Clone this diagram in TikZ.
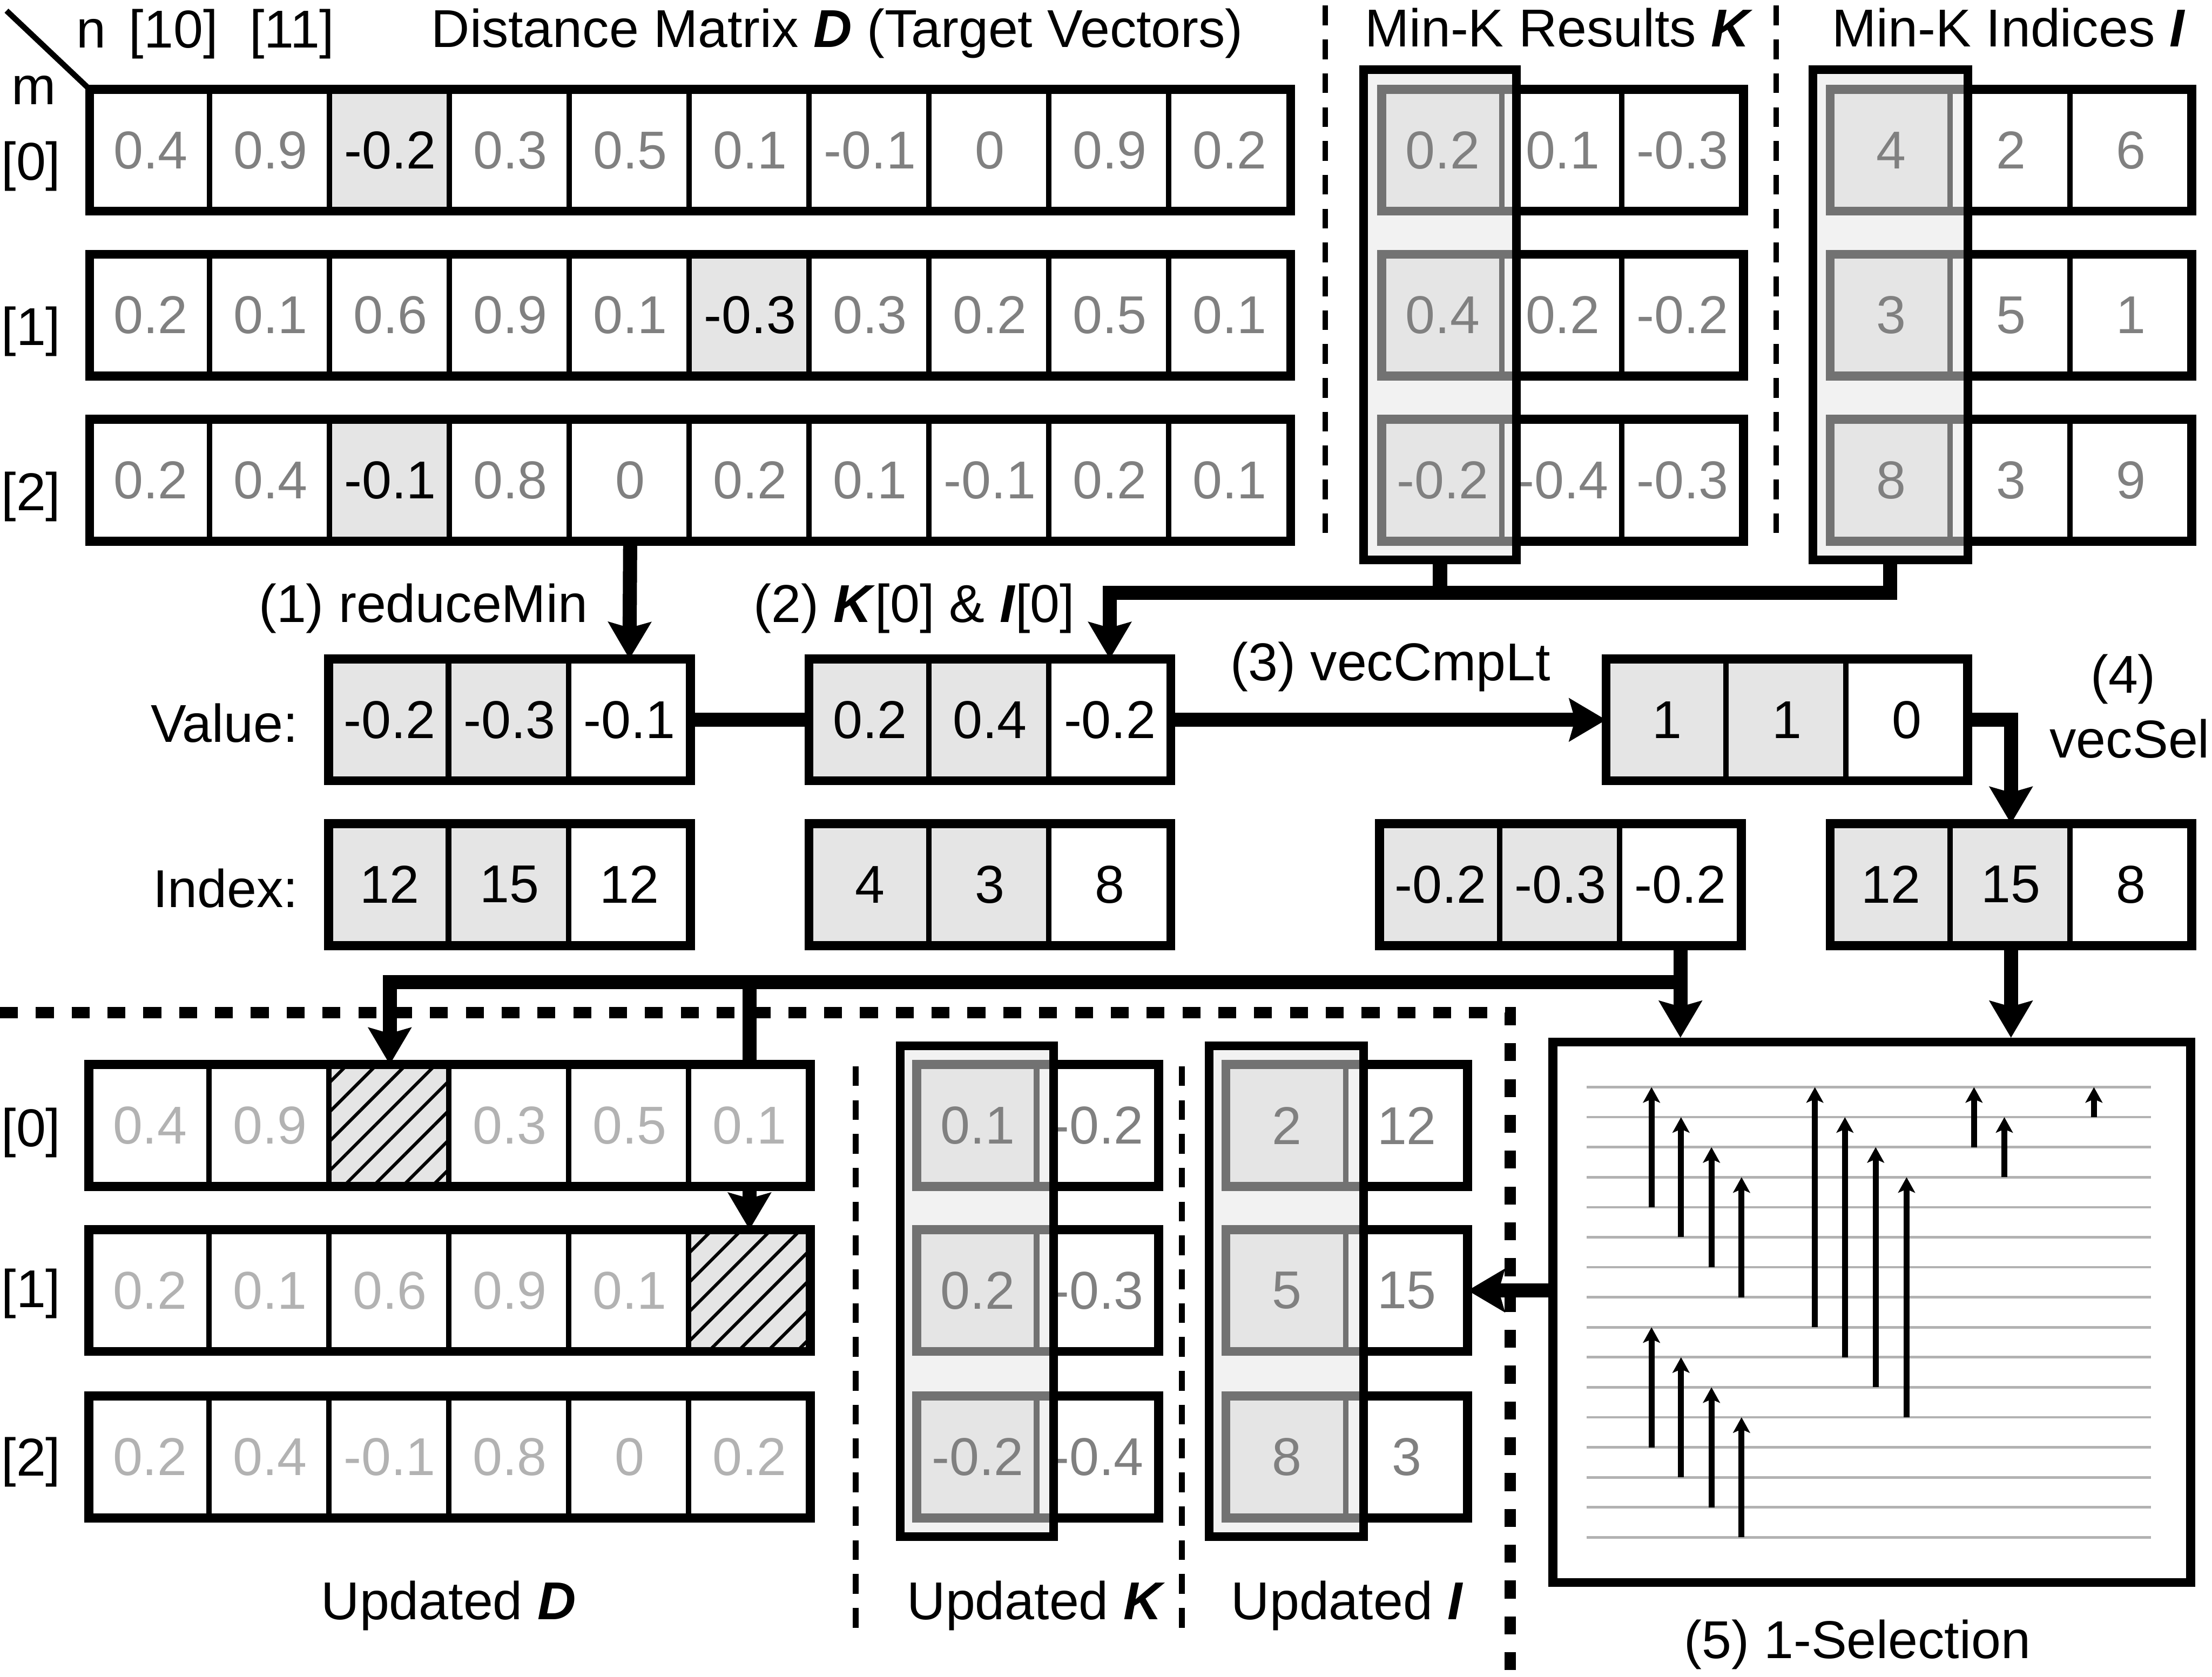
\documentclass[tikz,border=0pt]{standalone}
\usepackage{fontspec}
\setmainfont{Liberation Sans}
\usepackage{tikz}
\usetikzlibrary{arrows.meta, patterns.meta}

\newcommand{\cellrow}[5]{%
  \foreach \v/\s [count=\i] in {#5} {
    \node[cell, \s] (#1-\i) at ({#2+(\i-0.5)*85}, #3) {\v};
  }
  \foreach \i in {2,...,#4} {
    \draw[cellsep] (#1-\i.north west) -- (#1-\i.south west);
  }
  \draw[rowframe] (#1-1.north west) rectangle (#1-#4.south east);
}

\begin{document}
\begin{tikzpicture}[x=0.1mm, y=-0.1mm, font=\fontsize{10.75}{13}\selectfont]
    \tikzstyle{cell} = [rectangle, minimum width=8.5mm, minimum height=8.5mm, inner sep=0pt]
    \tikzstyle{dv} = [text=gray]
    \tikzstyle{dh} = [fill=black!10, text=black]
    \tikzstyle{uv} = [text=black!30]
    \tikzstyle{hatch} = [fill=black!10, postaction={pattern={Lines[angle=45, distance=4.2pt, line width=0.65pt]}}]
    \tikzstyle{kv} = [text=gray]
    \tikzstyle{kh} = [fill=black!10]
    \tikzstyle{bv} = [text=black]
    \tikzstyle{bh} = [fill=black!10, text=black]
    \tikzstyle{cellsep} = [line width=0.4mm]
    \tikzstyle{rowframe} = [line width=0.64mm]
    \tikzstyle{colsel} = [rectangle, draw, line width=0.6mm, fill=black!10, fill opacity=0.5, inner sep=0pt]
    \tikzstyle{lbl} = [inner sep=0pt, anchor=base]
    \tikzstyle{conn} = [line width=1mm]
    \tikzstyle{arr} = [-{Stealth[length=2.6mm, width=3mm, inset=0.4mm]}]
    \tikzstyle{netarr} = [line width=0.43mm, -{Stealth[length=1.1mm, width=1.2mm, inset=0.25mm]}]
    \tikzstyle{gridln} = [line width=0.18mm, black!30]
    \tikzstyle{thindash} = [line width=0.4mm, dash pattern=on 1.4mm off 1mm]
    \tikzstyle{thickdash} = [line width=0.83mm, dash pattern=on 1.27mm off 1.27mm]

    \useasboundingbox (0,0) rectangle (1568,1189);

    \draw[thindash] (939.5,4) -- (939.5,383);
    \draw[thindash] (1259,4) -- (1259,383);
    \draw[thindash] (606.6,756) -- (606.6,1155);
    \draw[thindash] (837.8,756) -- (837.8,1155);
    \draw[thickdash] (0,718) -- (1070.5,718) -- (1070.5,1189);

    \node[lbl] (nlab) at (64.5,34) {n};
    \node[lbl] (n10) at (123,34) {[10]};
    \node[lbl] (n11) at (207,34) {[11]};
    \node[lbl] (mlab) at (24,74) {m};
    \node[lbl] (dtitle) at (593.5,33.5) {Distance Matrix \textbf{\textit{D}} (Target Vectors)};
    \node[lbl] (ktitle) at (1105,33.2) {Min-K Results \textbf{\textit{K}}};
    \node[lbl] (ititle) at (1424,33.2) {Min-K Indices \textbf{\textit{I}}};

    \node (r0) at (22,118) {[0]};
    \node (r1) at (22,235) {[1]};
    \node (r2) at (22,352) {[2]};
    \cellrow{d0}{64.2}{106.5}{10}{0.4/dv, 0.9/dv, -0.2/dh, 0.3/dv, 0.5/dv, 0.1/dv, -0.1/dv, 0/dv, 0.9/dv, 0.2/dv}
    \cellrow{d1}{64.2}{223.5}{10}{0.2/dv, 0.1/dv, 0.6/dv, 0.9/dv, 0.1/dv, -0.3/dh, 0.3/dv, 0.2/dv, 0.5/dv, 0.1/dv}
    \cellrow{d2}{64.2}{340.5}{10}{0.2/dv, 0.4/dv, -0.1/dh, 0.8/dv, 0/dv, 0.2/dv, 0.1/dv, -0.1/dv, 0.2/dv, 0.1/dv}
    \coordinate (corner) at (4.6,7.6);
    \draw[line width=0.4mm] (corner) -- (d0-1.north west);

    \cellrow{k0}{980.2}{106.5}{3}{{}/kh, 0.1/kv, -0.3/kv}
    \cellrow{k1}{980.2}{223.5}{3}{{}/kh, 0.2/kv, -0.2/kv}
    \cellrow{k2}{980.2}{340.5}{3}{{}/kh, -0.4/kv, -0.3/kv}
    \node[colsel, minimum width=10.85mm, minimum height=34.75mm] (kcol) at (1020.75,223.25) {};
    \node[kv] (k0t) at (k0-1) {0.2};
    \node[kv] (k1t) at (k1-1) {0.4};
    \node[kv] (k2t) at (k2-1) {-0.2};

    \cellrow{i0}{1298}{106.5}{3}{{}/kh, 2/kv, 6/kv}
    \cellrow{i1}{1298}{223.5}{3}{{}/kh, 5/kv, 1/kv}
    \cellrow{i2}{1298}{340.5}{3}{{}/kh, 3/kv, 9/kv}
    \node[colsel, minimum width=11mm, minimum height=34.75mm] (icol) at (1340,223.25) {};
    \node[kv] (i0t) at (i0-1) {4};
    \node[kv] (i1t) at (i1-1) {3};
    \node[kv] (i2t) at (i2-1) {8};

    \node[lbl] (step1) at (300,441.3) {(1) reduceMin};
    \node[lbl] (step2) at (648,441.3) {(2) \textbf{\textit{K}}[0] \& \textbf{\textit{I}}[0]};
    \node[lbl] (step3) at (985.7,482.4) {(3) vecCmpLt};
    \node[lbl] (step4a) at (1505,491.3) {(4)};
    \node[lbl] (step4b) at (1509.7,537.3) {vecSel};
    \node[lbl, anchor=base east] (vallab) at (212,526.3) {Value:};
    \node[lbl, anchor=base east] (idxlab) at (212,643.4) {Index:};

    \cellrow{v1}{233.7}{510.4}{3}{-0.2/bh, -0.3/bh, -0.1/bv}
    \cellrow{v2}{574.2}{510.4}{3}{0.2/bh, 0.4/bh, -0.2/bv}
    \cellrow{x1}{233.7}{627.2}{3}{12/bh, 15/bh, 12/bv}
    \cellrow{x2}{574.2}{627.2}{3}{4/bh, 3/bh, 8/bv}
    \cellrow{cmp}{1139.2}{510.4}{3}{1/bh, 1/bh, 0/bv}
    \cellrow{newv}{978.7}{627.2}{3}{-0.2/bh, -0.3/bh, -0.2/bv}
    \cellrow{newi}{1298}{627.2}{3}{12/bh, 15/bh, 8/bv}

    \node[draw, line width=0.62mm, minimum width=45.21mm, minimum height=38.3mm, inner sep=0pt] (sel) at (1326.85,930.4) {};
    \foreach \k in {0,...,15}
        \draw[gridln] (1124.8,{770.8+21.28*\k}) -- (1524.8,{770.8+21.28*\k});
    \foreach \x/\a/\b in {1170.7/4/0, 1191.6/5/1, 1213.2/6/2, 1234.5/7/3,
                          1170.7/12/8, 1191.6/13/9, 1213.2/14/10, 1234.5/15/11,
                          1286.5/8/0, 1307.8/9/1, 1329.6/10/2, 1351.5/11/3,
                          1399.3/2/0, 1420.8/3/1, 1484.3/1/0}
        \draw[netarr] (\x,{770.8+21.28*\a}) -- (\x,{770.8+21.28*\b});
    \node[lbl] (step5) at (1316.6,1175.8) {(5) 1-Selection};

    \node (u0) at (22,803) {[0]};
    \node (u1) at (22,917.4) {[1]};
    \node (u2) at (22,1036.7) {[2]};
    \cellrow{ud0}{63.8}{798}{6}{0.4/uv, 0.9/uv, {}/hatch, 0.3/uv, 0.5/uv, 0.1/uv}
    \cellrow{ud1}{63.8}{915}{6}{0.2/uv, 0.1/uv, 0.6/uv, 0.9/uv, 0.1/uv, {}/hatch}
    \cellrow{ud2}{63.8}{1033}{6}{0.2/uv, 0.4/uv, -0.1/uv, 0.8/uv, 0/uv, 0.2/uv}
    \node[lbl] (udlab) at (318,1148.3) {Updated \textbf{\textit{D}}};

    \cellrow{uk0}{650.5}{798}{2}{{}/kh, -0.2/kv}
    \cellrow{uk1}{650.5}{915}{2}{{}/kh, -0.3/kv}
    \cellrow{uk2}{650.5}{1033}{2}{{}/kh, -0.4/kv}
    \node[colsel, minimum width=10.87mm, minimum height=34.8mm] (ukcol) at (692.55,915.5) {};
    \node[kv] (uk0t) at (uk0-1) {0.1};
    \node[kv] (uk1t) at (uk1-1) {0.2};
    \node[kv] (uk2t) at (uk2-1) {-0.2};
    \node[lbl] (uklab) at (734.5,1148.2) {Updated \textbf{\textit{K}}};

    \cellrow{ui0}{869.7}{798}{2}{{}/kh, 12/kv}
    \cellrow{ui1}{869.7}{915}{2}{{}/kh, 15/kv}
    \cellrow{ui2}{869.7}{1033}{2}{{}/kh, 3/kv}
    \node[colsel, minimum width=10.96mm, minimum height=34.8mm] (uicol) at (911.8,915.5) {};
    \node[kv] (ui0t) at (ui0-1) {2};
    \node[kv] (ui1t) at (ui1-1) {5};
    \node[kv] (ui2t) at (ui2-1) {8};
    \node[lbl] (uilab) at (955,1148.2) {Updated \textbf{\textit{I}}};

    \draw[conn, arr] (d2-5.south) -- (v1-3.north);
    \draw[conn] (v1-3.east) -- (v2-1.west);
    \draw[conn, arr] (v2-3.east) -- (cmp-1.west);
    \coordinate (kibus) at (0,420.5);
    \draw[conn] (kcol.south) -- (kcol.south |- kibus);
    \draw[conn, arr] (icol.south) |- (kibus -| v2-3) -- (v2-3.north);
    \draw[conn, arr] (cmp-3.east) -| (newi-2.north);
    \draw[conn, arr] (newv-3.south) -- (newv-3 |- sel.north);
    \draw[conn, arr] (newi-2.south) -- (newi-2 |- sel.north);
    \coordinate (dbus) at (0,696.5);
    \draw[conn, arr] (newv-3 |- dbus) -| (ud0-3.north);
    \draw[conn] (ud0-6.north |- dbus) -- (ud0-6.north);
    \draw[conn, arr] (ud0-6.south) -- (ud1-6.north);
    \draw[conn, arr] (sel.west |- ui1-2) -- (ui1-2.east);
\end{tikzpicture}
\end{document}
